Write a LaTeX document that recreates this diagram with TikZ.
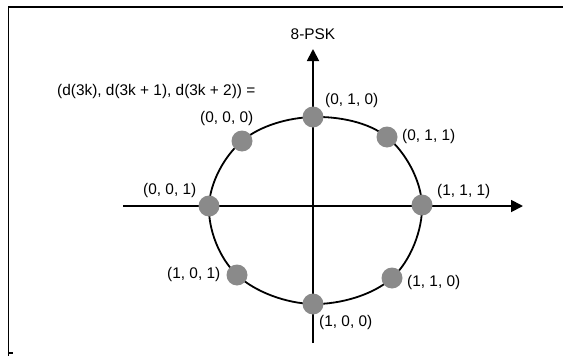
\documentclass[tikz,border=0pt]{standalone}
\usepackage{fontspec}
\setmainfont{Liberation Sans}
\usetikzlibrary{arrows.meta}
\definecolor{dotgray}{RGB}{138,138,138}
\begin{document}
\begin{tikzpicture}[x=1pt,y=-1pt,
  axisline/.style={line width=1.8pt,-{Triangle[length=12pt,width=12pt]}},
  ringline/.style={line width=1.8pt},
  pskdot/.style={circle,fill=dotgray,minimum size=21pt,inner sep=0pt},
  lbl/.style={inner sep=0pt,anchor=west,font=\fontsize{15.4}{18}\selectfont},
  frameline/.style={line width=1.3pt}]
\useasboundingbox (0,0) rectangle (563,356);
% frame
\draw[frameline] (8.5,356) -- (8.5,7) -- (563,7);
\draw[frameline] (8.5,353) -- (12.5,353);
% axis end points
\coordinate (xl) at (123,206);
\coordinate (xr) at (523,206);
\coordinate (yb) at (313,343);
\coordinate (yt) at (313,49);
\draw[axisline] (xl) -- (xr);
\draw[axisline] (yb) -- (yt);
% constellation points
\coordinate (c010) at (313,117);
\coordinate (c011) at (387,137);
\coordinate (c111) at (422,205);
\coordinate (c110) at (392,278);
\coordinate (c100) at (313,304);
\coordinate (c101) at (237,275);
\coordinate (c001) at (209,206);
\coordinate (c000) at (242,141);
\draw[ringline] plot[smooth cycle,tension=0.62] coordinates {(c010) (c011) (c111) (c110) (c100) (c101) (c001) (c000)};
\foreach \p in {010,011,111,110,100,101,001,000}
  \node[pskdot] (d\p) at (c\p) {};
% labels
\node[inner sep=0pt,font=\fontsize{15.4}{18}\selectfont] (title) at (313,34) {8-PSK};
\node[lbl] (legend) at (57,92) {(d(3k), d(3k + 1), d(3k + 2)) =};
\node[lbl] (l010) at (325,101) {(0, 1, 0)};
\node[lbl] (l000) at (200,119) {(0, 0, 0)};
\node[lbl] (l011) at (402,137) {(0, 1, 1)};
\node[lbl] (l001) at (143,191) {(0, 0, 1)};
\node[lbl] (l111) at (437,192) {(1, 1, 1)};
\node[lbl] (l101) at (167,275) {(1, 0, 1)};
\node[lbl] (l110) at (407,283) {(1, 1, 0)};
\node[lbl] (l100) at (319,323) {(1, 0, 0)};
\end{tikzpicture}
\end{document}
